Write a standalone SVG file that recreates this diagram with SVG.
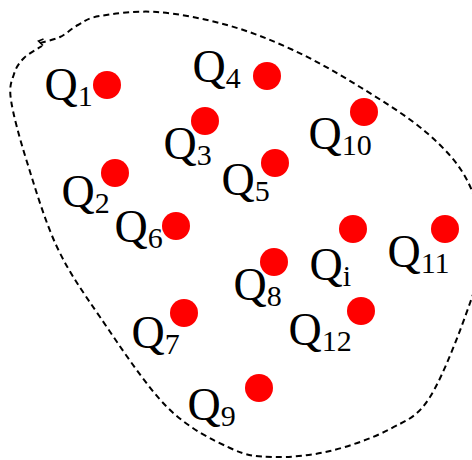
<svg xmlns="http://www.w3.org/2000/svg" width="472" height="460" viewBox="0 0 472 460">
<style>
.dot{fill:#ff0000}
.lbl{font-family:"Liberation Serif","Times New Roman",serif;font-size:46px;fill:#000}
.sub{font-size:30px}
.bd{fill:none;stroke:#000;stroke-width:2;stroke-dasharray:6,4}
</style>
<rect width="472" height="460" fill="#fff"/>
<g id="connectors">
<path class="bd" d="M40,43 C43.3,42 53.7,40 60,37 C66.3,34 71.3,28.5 78,25 C84.7,21.5 86.8,18.2 100,16 C113.2,13.8 135.8,10.5 157,12 C178.2,13.5 204.3,18.7 227,25 C249.7,31.3 270.8,39.7 293,50 C315.2,60.3 337.7,73.2 360,87 C382.3,100.8 409,117.2 427,133 C445,148.8 458.7,163.3 468,182 C477.3,200.7 482.7,224.8 483,245 C483.3,265.2 478.8,277.7 470,303 C461.2,328.3 443.3,376 430,397 C416.7,418 406.7,420 390,429 C373.3,438 349.5,446.3 330,451 C310.5,455.7 289.7,457.5 273,457 C256.3,456.5 247.7,456.3 230,448 C212.3,439.7 188.7,428.8 167,407 C145.3,385.2 118.3,343.7 100,317 C81.7,290.3 69.2,272.8 57,247 C44.8,221.2 34.7,186.5 27,162 C19.3,137.5 13.2,114.7 11,100 C8.8,85.3 11.8,81 14,74 C16.2,67 19.3,62.7 24,58 C28.7,53.3 39,48 42,46"/>
<path d="M43.5,39 L38.5,41 L43,45.5" fill="none" stroke="#000" stroke-width="1.6"/>
</g>
<g id="Q1"><circle class="dot" cx="107" cy="85" r="14"/><text class="lbl" x="44.5" y="100">Q<tspan class="sub" dy="6">1</tspan></text></g>
<g id="Q2"><circle class="dot" cx="115" cy="173" r="14"/><text class="lbl" x="61.5" y="207">Q<tspan class="sub" dy="6">2</tspan></text></g>
<g id="Q3"><circle class="dot" cx="205" cy="121" r="14"/><text class="lbl" x="163.5" y="159">Q<tspan class="sub" dy="6">3</tspan></text></g>
<g id="Q4"><circle class="dot" cx="267" cy="76" r="14"/><text class="lbl" x="192.5" y="82">Q<tspan class="sub" dy="6">4</tspan></text></g>
<g id="Q5"><circle class="dot" cx="275" cy="163" r="14"/><text class="lbl" x="221.5" y="195">Q<tspan class="sub" dy="6">5</tspan></text></g>
<g id="Q6"><circle class="dot" cx="176" cy="226" r="14"/><text class="lbl" x="114.5" y="242">Q<tspan class="sub" dy="6">6</tspan></text></g>
<g id="Q7"><circle class="dot" cx="184" cy="313" r="14"/><text class="lbl" x="131.5" y="348">Q<tspan class="sub" dy="6">7</tspan></text></g>
<g id="Q8"><circle class="dot" cx="274" cy="262" r="14"/><text class="lbl" x="233.5" y="300">Q<tspan class="sub" dy="6">8</tspan></text></g>
<g id="Q9"><circle class="dot" cx="259" cy="388" r="14"/><text class="lbl" x="187.5" y="420">Q<tspan class="sub" dy="6">9</tspan></text></g>
<g id="Q10"><circle class="dot" cx="364" cy="112" r="14"/><text class="lbl" x="308.5" y="149">Q<tspan class="sub" dy="6">10</tspan></text></g>
<g id="Q11"><circle class="dot" cx="445" cy="229" r="14"/><text class="lbl" x="387.5" y="267">Q<tspan class="sub" dy="6">11</tspan></text></g>
<g id="Q12"><circle class="dot" cx="361" cy="311" r="14"/><text class="lbl" x="288.5" y="345">Q<tspan class="sub" dy="6">12</tspan></text></g>
<g id="Qi"><circle class="dot" cx="353" cy="229" r="14"/><text class="lbl" x="309.5" y="280">Q<tspan class="sub" dy="6">i</tspan></text></g>
</svg>
